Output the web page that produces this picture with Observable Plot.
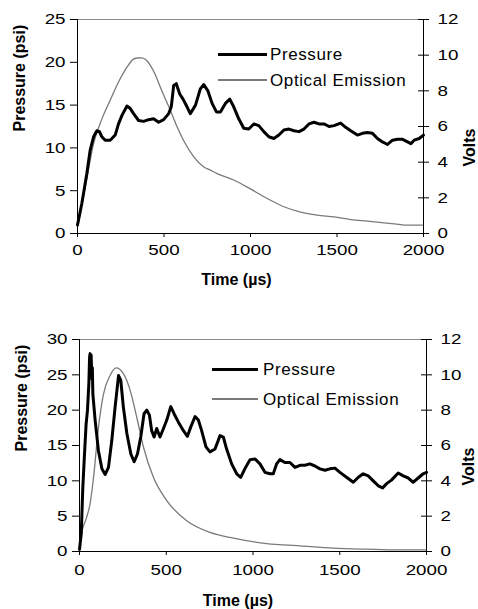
<!DOCTYPE html>
<html><head><meta charset="utf-8">
<script src="https://cdn.jsdelivr.net/npm/d3@7"></script>
<script src="https://cdn.jsdelivr.net/npm/@observablehq/plot@0.6"></script>
<style>
body{margin:0;background:#fff;font-family:"Liberation Sans",Arial,Helvetica,sans-serif;}
.chart{position:relative;width:478px;overflow:hidden;}
.legend-row{position:absolute;display:flex;align-items:center;height:17px;font-size:17px;line-height:17px;letter-spacing:0.6px;color:#000;white-space:nowrap;}
.sw{flex:none;}
</style></head><body>
<div id="c1" class="chart" style="height:300px"></div>
<div id="c2" class="chart" style="height:309px"></div>
<script>
// ---------- data ----------
const seriesNames = ["Pressure", "Optical Emission"];
const xLabel = "Time (µs)";
const yLabel = "Pressure (psi)";
const y2Label = "Volts";
const xTicks = [0, 500, 1000, 1500, 2000];
const voltTicks = [0, 2, 4, 6, 8, 10, 12];
const pressureTicksTop = [0, 5, 10, 15, 20, 25];
const pressureTicksBottom = [0, 5, 10, 15, 20, 25, 30];

// top chart
const topPressureT = [0,25,54,73,93,112,127,141,160,189,218,237,257,286,305,324,353,382,411,440,469,498,527,542,556,571,591,610,633,652,682,710,730,753,778,803,826,855,880,903,932,961,990,1019,1048,1077,1106,1135,1164,1193,1222,1251,1280,1309,1338,1367,1396,1425,1454,1483,1521,1550,1579,1618,1647,1676,1705,1734,1763,1792,1821,1850,1879,1908,1927,1946,1975,2000];
const topPressureP = [1,3.5,7,9.7,11.3,12,11.9,11.3,10.9,10.9,11.5,12.8,13.8,14.9,14.6,14,13.2,13.1,13.3,13.4,13,13.3,14,14.8,17.3,17.5,16.3,15.7,14.8,14,15,16.9,17.4,16.7,15.2,14.2,14.2,15.2,15.7,14.8,13.4,12.3,12.2,12.8,12.6,11.9,11.3,11.1,11.5,12.1,12.2,12,11.9,12.2,12.8,13,12.8,12.8,12.5,12.6,12.9,12.4,12,11.5,11.7,11.8,11.7,11.1,10.7,10.4,10.9,11,11,10.7,10.5,10.9,11.1,11.5];
const topOpticalT = [0,45,93,140,189,240,286,320,344,370,400,421,450,479,510,537,575,614,672,730,768,807,903,1000,1097,1193,1290,1386,1483,1579,1676,1772,1869,1898,2000];
const topOpticalV = [0.37,2.6,5.04,6.4,7.47,8.55,9.33,9.75,9.84,9.85,9.7,9.43,8.9,8.2,7.5,6.9,6.0,5.2,4.3,3.73,3.55,3.36,3.0,2.5,1.96,1.5,1.2,1.03,0.93,0.78,0.69,0.6,0.5,0.47,0.47];

// bottom chart
const botPressureT = [0,10,19,27,38,46,54,58,61,64,67,70,74,77,90,109,129,148,167,186,205,225,238,253,273,296,315,334,353,372,388,403,416,430,445,464,484,503,526,545,570,599,622,641,666,685,704,729,752,781,810,829,848,877,906,929,953,983,1012,1040,1069,1098,1117,1136,1155,1184,1213,1242,1271,1299,1328,1357,1386,1415,1443,1472,1501,1539,1578,1607,1635,1664,1693,1722,1747,1770,1798,1837,1866,1895,1923,1952,1981,2000];
const botPressureP = [0.3,2.5,9,12.9,18,20,23.8,27.5,28,24.5,27.8,25.5,26,22.3,18.6,14.3,11.7,10.9,11.9,15.7,20.4,24.9,24.2,20.4,16.7,13.8,12.7,13.8,16.2,19.5,20,19.3,17.1,16.2,17.4,16.2,17.4,18.6,20.5,19.5,18.3,17.1,16.3,17.6,19.1,18.6,17.1,14.8,14.1,14.5,16.4,16.2,14.5,12.4,11,10.5,11.7,13,13.1,12.4,11.2,11,11,12.4,13,12.6,12.6,11.9,12.2,12.2,12.4,12.1,11.7,11.5,11.7,11.8,11.2,10.5,9.8,10.5,11,10.7,10,9.3,9,9.6,10.1,11.1,10.7,10.4,9.8,10.4,11,11.2];
const botOpticalT = [0,10,40,61,81,109,138,177,211,253,292,330,369,426,503,618,752,887,1079,1271,1463,1655,1847,2000];
const botOpticalV = [0.1,0.9,1.9,2.7,4.2,7.0,8.9,9.98,10.39,10.07,9.12,7.6,5.9,4.2,2.88,1.74,1.08,0.76,0.45,0.32,0.19,0.13,0.09,0.09];

// ---------- drawing ----------
const FONT = '"Liberation Sans", Arial, Helvetica, sans-serif';

function stretchText(svg, selector, ratio) {
  svg.querySelectorAll(selector).forEach(t => {
    const L = t.getComputedTextLength();
    if (L > 0) {
      t.setAttribute("textLength", (L * ratio).toFixed(2));
      t.setAttribute("lengthAdjust", "spacingAndGlyphs");
    }
  });
}

function drawChart(el, cfg) {
  const pressure = cfg.pT.map((t, i) => ({t, p: cfg.pP[i]}));
  const optical = cfg.oT.map((t, i) => ({t, v: cfg.oV[i]}));
  const yMax = cfg.yTicks[cfg.yTicks.length - 1];
  const k = yMax / voltTicks[voltTicks.length - 1];
  const xDom = [xTicks[0], xTicks[xTicks.length - 1]];
  const svg = Plot.plot({
    width: 478, height: cfg.height,
    marginLeft: cfg.ml, marginRight: cfg.mr, marginTop: cfg.mt, marginBottom: cfg.mb,
    style: {fontFamily: FONT, fontSize: "15px", color: "#000", background: "transparent"},
    x: {domain: xDom},
    y: {domain: [0, yMax]},
    marks: [
      Plot.ruleY([yMax], {stroke: "#8a8a8a", strokeWidth: 1}),
      Plot.line(optical, {x: "t", y: d => d.v * k, stroke: "#7a7a7a", strokeWidth: 1.3, curve: "monotone-x"}),
      Plot.line(pressure, {x: "t", y: "p", stroke: "#000", strokeWidth: 3, strokeLinejoin: "round"}),
      Plot.ruleX([xDom[0]], {stroke: "#000"}),
      Plot.ruleX([xDom[1]], {stroke: "#000"}),
      Plot.ruleY([0], {stroke: "#000"}),
      Plot.axisX({ticks: xTicks, tickSize: 4, tickPadding: cfg.xPad, tickFormat: d => String(d), label: null}),
      Plot.axisY({anchor: "left", ticks: cfg.yTicks, tickSize: 7, tickPadding: 5, tickFormat: d => String(d), label: null}),
      Plot.axisY({anchor: "right", ticks: voltTicks.map(v => v * k), tickSize: 5, tickPadding: 9, tickFormat: d => String(Math.round(d / k)), label: null}),
      Plot.axisY({anchor: "right", ticks: voltTicks.map(v => v * k), tickSize: -6, tickFormat: () => "", label: null}),
      Plot.text([xLabel], {frameAnchor: "bottom", lineAnchor: "bottom", dy: cfg.xLabelDy, dx: cfg.xLabelDx, text: d => d, fontSize: 16, fontWeight: "bold", ariaLabel: "axis title"}),
      Plot.text([yLabel], {frameAnchor: "left", rotate: -90, lineAnchor: "middle", dx: cfg.yLabelDx, dy: cfg.yLabelDy, text: d => d, fontSize: 16, fontWeight: "bold", ariaLabel: "axis title"}),
      Plot.text([y2Label], {frameAnchor: "right", rotate: -90, lineAnchor: "middle", dx: cfg.y2LabelDx, dy: cfg.y2LabelDy, text: d => d, fontSize: 16, fontWeight: "bold", ariaLabel: "axis title"})
    ]
  });
  svg.style.position = "absolute";
  svg.style.left = "0px";
  svg.style.top = "0px";
  el.appendChild(svg);
  stretchText(svg, 'g[aria-label="x-axis tick label"] text, g[aria-label="y-axis tick label"] text', 1.25);
  stretchText(svg, 'g[aria-label="axis title"] text', 1.15);

  // legend (inside plot area, HTML overlay)
  const styles = [
    {color: "#000", thick: 3, top: cfg.legTop[0]},
    {color: "#7a7a7a", thick: 1.5, top: cfg.legTop[1]}
  ];
  seriesNames.forEach((name, i) => {
    const row = document.createElement("div");
    row.className = "legend-row";
    row.style.left = cfg.legLeft + "px";
    row.style.top = styles[i].top + "px";
    const sw = document.createElement("div");
    sw.className = "sw";
    sw.style.width = cfg.swW + "px";
    sw.style.height = styles[i].thick + "px";
    sw.style.background = styles[i].color;
    sw.style.marginRight = cfg.swGap + "px";
    const tx = document.createElement("span");
    tx.textContent = name;
    row.appendChild(sw);
    row.appendChild(tx);
    el.appendChild(row);
  });
}

drawChart(document.getElementById("c1"), {
  height: 300, ml: 77, mr: 55, mt: 19, mb: 67,
  yTicks: pressureTicksTop, xPad: 7,
  pT: topPressureT, pP: topPressureP, oT: topOpticalT, oV: topOpticalV,
  xLabelDy: 51, xLabelDx: -14, yLabelDx: -58, yLabelDy: 5, y2LabelDx: 46, y2LabelDy: 2,
  legLeft: 218, legTop: [45.6, 71.6], swW: 49, swGap: 3
});
drawChart(document.getElementById("c2"), {
  height: 309, ml: 79, mr: 52, mt: 39, mb: 58,
  yTicks: pressureTicksBottom, xPad: 9,
  pT: botPressureT, pP: botPressureP, oT: botOpticalT, oV: botOpticalV,
  xLabelDy: 54, xLabelDx: -15, yLabelDx: -58, yLabelDy: 6, y2LabelDx: 42, y2LabelDy: 2,
  legLeft: 212, legTop: [60.6, 90.6], swW: 46, swGap: 5
});
</script>
</body></html>
